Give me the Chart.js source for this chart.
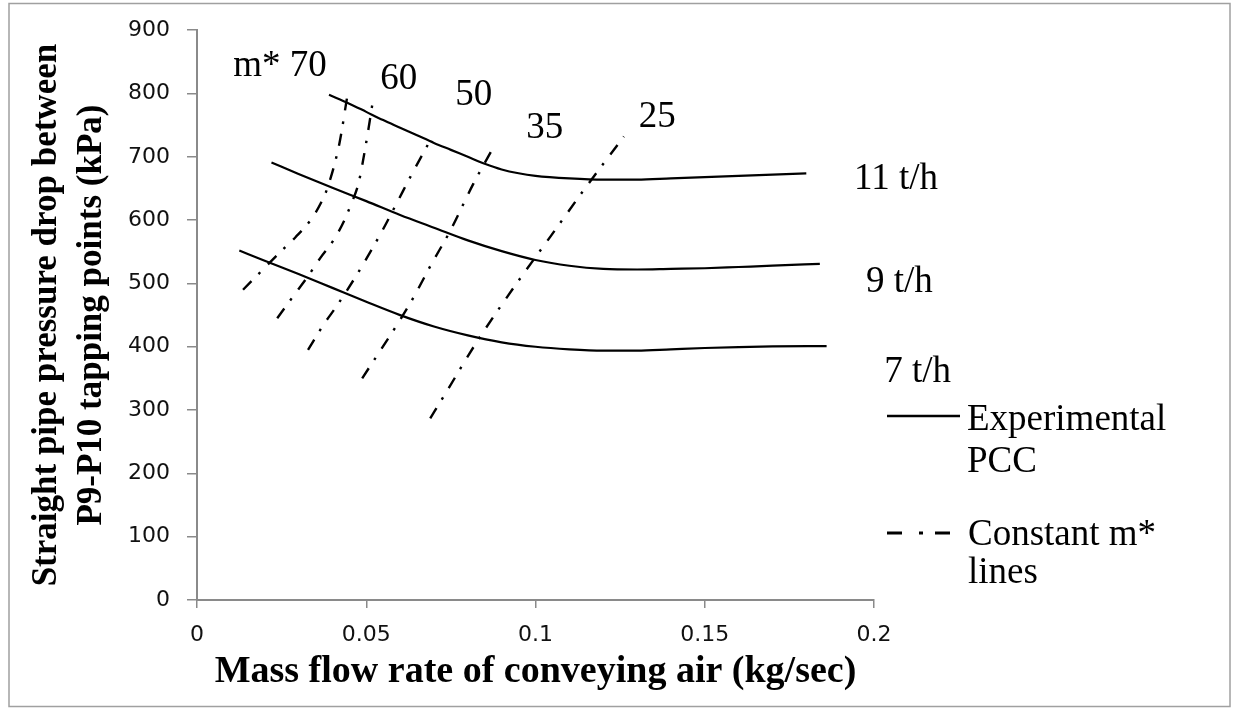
<!DOCTYPE html>
<html>
<head>
<meta charset="utf-8">
<script src="https://cdn.jsdelivr.net/npm/chart.js@4.4.1/dist/chart.umd.min.js"></script>
<style>
html,body{margin:0;padding:0;background:#fff;}
#wrap{width:1238px;height:714px;position:relative;}
</style>
</head>
<body>
<div id="wrap"><canvas id="c"></canvas></div>
<script>
// ---------- DATA ----------
const xTickLabels = ['0', '0.05', '0.1', '0.15', '0.2'];
const yTickLabels = ['0', '100', '200', '300', '400', '500', '600', '700', '800', '900'];

// Experimental PCC curves (mass flow of air kg/s, pressure drop kPa)
const flow11 = [0.039, 0.045, 0.05, 0.055, 0.06, 0.065, 0.07, 0.075, 0.08, 0.085, 0.09, 0.095, 0.10, 0.11, 0.12, 0.13, 0.14, 0.15, 0.16, 0.17, 0.18];
const dp11   = [798,   784,   771,  758,   746,  734,   722,  711,   700,  689,   680,  674,   670,  666,  664,  664,  666,  668,  670,  672,  674];
const flow9  = [0.022, 0.03, 0.04, 0.05, 0.06, 0.07, 0.08, 0.09, 0.10, 0.11, 0.12, 0.13, 0.14, 0.15, 0.16, 0.17, 0.184];
const dp9    = [691,   673,  651,  630,  608,  588,  568,  551,  537,  528,  523,  522,  523,  524,  526,  528,  531];
const flow7  = [0.0125, 0.02, 0.03, 0.04, 0.05, 0.06, 0.07, 0.08, 0.09, 0.10, 0.11, 0.12, 0.13, 0.14, 0.15, 0.16, 0.17, 0.186];
const dp7    = [552,    536,  515,  493,  471,  450,  432,  418,  407,  400,  396,  394,  394,  396,  398,  399.5, 400.5, 401];

// Constant m* lines
const m70Flow = [0.0136, 0.0243, 0.0291, 0.0334, 0.0366, 0.0388, 0.0421, 0.0444];
const m70Dp   = [490,    548,    573,    599,    627,    655,    722,    796];
const m60Flow = [0.0237, 0.029, 0.0326, 0.0364, 0.0403, 0.0433, 0.0458, 0.0477, 0.050, 0.0521];
const m60Dp   = [445,    484,   510,    540,    568,    597,    629,    658,    723,   793];
const m50Flow = [0.0328, 0.0374, 0.0411, 0.0477, 0.0546, 0.0595, 0.063, 0.0689];
const m50Dp   = [395,    435,    463,    518,    582,    632,    668,   726];
const m35Flow = [0.0488, 0.063, 0.0694, 0.0749, 0.0817, 0.0882];
const m35Dp   = [350,    469,   532,    584,    658,    721];
const m25Flow = [0.0689, 0.0728, 0.0827, 0.0931, 0.1044, 0.1153, 0.1261];
const m25Dp   = [287,    321,    408,    490,    574,    655,    732];

// Curve labels (text + anchor in data units)
const labelTexts = ['m* 70', '60', '50', '35', '25', '11 t/h', '9 t/h', '7 t/h'];
const labelFlow  = [0.0107, 0.0541, 0.0763, 0.0973, 0.1305, 0.1941, 0.1976, 0.2030];
const labelDp    = [828,    807,    781.5,  729.5,  747,    649,    486,    344];

// ---------- BUILD ----------
const pts = (xs, ys) => xs.map((x, i) => ({x: x, y: ys[i]}));
const solid = (xs, ys) => ({
  data: pts(xs, ys), showLine: true, borderColor: '#000', borderWidth: 2.2,
  pointRadius: 0, fill: false, cubicInterpolationMode: 'monotone'
});
const dashdot = (xs, ys) => ({
  data: pts(xs, ys), showLine: true, borderColor: '#000', borderWidth: 2.4,
  borderDash: [12, 10, 2.5, 11], pointRadius: 0, fill: false,
  cubicInterpolationMode: 'monotone', borderCapStyle: 'butt'
});

const datasets = [
  solid(flow11, dp11), solid(flow9, dp9), solid(flow7, dp7),
  dashdot(m70Flow, m70Dp), dashdot(m60Flow, m60Dp), dashdot(m50Flow, m50Dp),
  dashdot(m35Flow, m35Dp), dashdot(m25Flow, m25Dp)
];

const serif = '"Liberation Serif", "Times New Roman", serif';

const framePlugin = {
  id: 'frame',
  beforeDraw(chart) {
    const ctx = chart.ctx;
    ctx.save();
    ctx.fillStyle = '#fff';
    ctx.fillRect(0, 0, chart.width, chart.height);
    ctx.strokeStyle = '#a0a0a0';
    ctx.lineWidth = 1.5;
    ctx.strokeRect(9, 3.5, 1221, 703);
    ctx.restore();
  }
};

const labelPlugin = {
  id: 'curveLabels',
  afterDatasetsDraw(chart) {
    const ctx = chart.ctx, xs = chart.scales.x, ys = chart.scales.y;
    ctx.save();
    ctx.fillStyle = '#000';
    ctx.font = '37px ' + serif;
    ctx.textAlign = 'left';
    ctx.textBaseline = 'alphabetic';
    labelTexts.forEach((t, i) => {
      ctx.fillText(t, xs.getPixelForValue(labelFlow[i]), ys.getPixelForValue(labelDp[i]));
    });
    ctx.restore();
  }
};

const legendPlugin = {
  id: 'customLegend',
  afterDraw(chart) {
    const ctx = chart.ctx, r = chart.chartArea.right;
    ctx.save();
    ctx.strokeStyle = '#000';
    ctx.fillStyle = '#000';
    ctx.lineCap = 'butt';
    ctx.lineWidth = 2.5;
    ctx.setLineDash([]);
    ctx.beginPath(); ctx.moveTo(r + 13, 416); ctx.lineTo(r + 86, 416); ctx.stroke();
    ctx.lineWidth = 3;
    ctx.setLineDash([15, 17, 4, 12]);
    ctx.beginPath(); ctx.moveTo(r + 13, 533); ctx.lineTo(r + 76, 533); ctx.stroke();
    ctx.setLineDash([]);
    ctx.font = '37px ' + serif;
    ctx.textAlign = 'left';
    ctx.textBaseline = 'alphabetic';
    ctx.fillText('Experimental', r + 93, 430);
    ctx.fillText('PCC', r + 93, 472);
    ctx.fillText('Constant m*', r + 94, 545);
    ctx.fillText('lines', r + 94, 583);
    ctx.restore();
  }
};

Chart.defaults.color = '#000';

new Chart(document.getElementById('c'), {
  type: 'scatter',
  data: { datasets: datasets },
  options: {
    responsive: true,
    maintainAspectRatio: false,
    animation: false,
    events: [],
    layout: { padding: { left: 10, right: 364, top: 30, bottom: 14 } },
    plugins: { legend: { display: false }, tooltip: { enabled: false } },
    scales: {
      x: {
        type: 'linear', min: 0, max: 0.2,
        afterFit(scale) { scale.height = 100; },
        border: { display: true, color: '#8a8a8a', width: 2 },
        grid: { display: true, drawOnChartArea: false, drawTicks: true, tickLength: 8, color: '#8a8a8a', lineWidth: 1.5 },
        ticks: {
          stepSize: 0.05, padding: 14, color: '#111',
          font: { family: '"DejaVu Sans", Verdana, sans-serif', size: 22 },
          callback: (v, i) => xTickLabels[i]
        },
        title: {
          display: true, text: 'Mass flow rate of conveying air (kg/sec)', color: '#000',
          font: { family: serif, size: 38, weight: 'bold', lineHeight: 1.2 },
          padding: { top: 0, bottom: 5 }
        }
      },
      y: {
        type: 'linear', min: 0, max: 900,
        afterFit(scale) { scale.width = 187; },
        border: { display: true, color: '#8a8a8a', width: 2 },
        grid: { display: true, drawOnChartArea: false, drawTicks: true, tickLength: 10, color: '#8a8a8a', lineWidth: 1.5 },
        ticks: {
          stepSize: 100, padding: 17, color: '#111',
          font: { family: '"DejaVu Sans", Verdana, sans-serif', size: 22 },
          callback: (v, i) => yTickLabels[i]
        },
        title: {
          display: true,
          text: ['Straight pipe pressure drop between', 'P9-P10 tapping points (kPa)'],
          color: '#000',
          font: { family: serif, size: 35, weight: 'bold', lineHeight: 1.286 },
          padding: { top: 14.5, bottom: 0 }
        }
      }
    }
  },
  plugins: [framePlugin, labelPlugin, legendPlugin]
});
</script>
</body>
</html>
